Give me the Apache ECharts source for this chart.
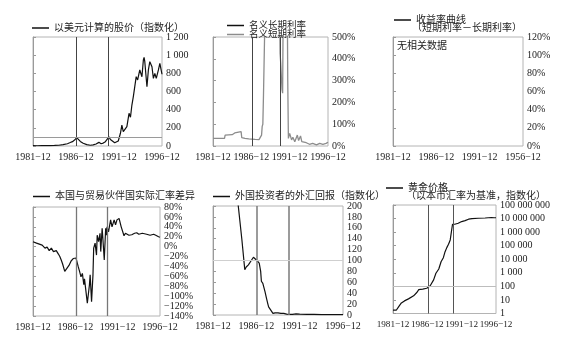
<!DOCTYPE html>
<html>
<head>
<meta charset="utf-8">
<script src="https://cdn.jsdelivr.net/npm/echarts@6/dist/echarts.min.js"></script>
<style>
  html, body { margin: 0; padding: 0; background: #fff; }
  #chart { width: 566px; height: 344px; }
</style>
</head>
<body>
<div id="chart"></div>
<script>
// X positions are months counted from December 1981 (0) to December 1996 (180).
const xTickLabels = ['1981\u221212', '1986\u221212', '1991\u221212', '1996\u221212'];
const yieldTickLabels = ['1981\u221212', '1986\u221212', '1991\u221212', '1956\u221212'];
const eventMonths = [61, 105];

// Stock price in US dollars, indexed
const stockMonths = [0, 6, 12, 18, 24, 30, 36, 42, 48, 52, 55, 58, 61, 63, 66, 70, 75, 80, 84, 88, 92, 95, 98, 101, 103, 106, 108, 110, 114, 119, 122, 124, 126, 128, 131, 134, 136, 138, 140, 142, 144, 146, 149, 152, 154, 155, 156, 159, 161, 163, 166, 168, 170, 172, 175, 177, 180];
const stockValues = [4, 3, 4, 5, 5, 6, 8, 15, 25, 38, 48, 65, 92, 78, 50, 30, 15, 8, 12, 22, 40, 25, 32, 48, 32, 100, 72, 58, 35, 55, 140, 231, 158, 140, 213, 360, 316, 451, 543, 653, 763, 727, 837, 763, 947, 975, 928, 653, 837, 928, 873, 745, 800, 745, 837, 910, 790];

// Nominal interest rates (%)
const longRateMonths = [];
const longRateValues = [];
const shortRateMonths = [0, 18, 19, 30, 34, 36, 44, 45, 50, 56, 60, 66, 72, 74, 76, 77, 78, 79, 80, 82, 90, 100, 104, 105, 106, 108, 109, 110, 113, 116, 117, 118, 120, 123, 125, 128, 132, 134, 137, 139, 142, 146, 151, 156, 162, 167, 172, 177, 180];
const shortRateValues = [35, 35, 50, 52, 60, 66, 66, 38, 35, 33, 32, 30, 29, 28, 50, 90, 100, 230, 235, 700, 1200, 900, 700, 425, 380, 260, 242, 700, 900, 800, 300, 35, 58, 28, 40, 20, 50, 25, 46, 20, 12, 15, 8, 12, 5, 12, 8, 12, 17];

// Yield curve: no data available
const yieldMonths = [];
const yieldValues = [];

// Real exchange rate gap against trading partners (%)
const realRateMonths = [0, 5, 9, 13, 17, 20, 23, 26, 29, 33, 36, 38, 40, 42, 45, 48, 51, 54, 57, 59, 61, 64, 66, 68, 70, 72, 73, 77, 80, 81, 83, 85, 86, 88, 90, 91, 93, 95, 96, 98, 99, 101, 103, 104, 105, 107, 110, 112, 115, 117, 119, 122, 125, 129, 131, 133, 136, 140, 144, 147, 150, 152, 155, 157, 161, 163, 166, 168, 171, 174, 176, 178, 180];
const realRateValues = [10, 7, 5, 3, -3, -1, -8, -3, -10, -8, -15, -20, -27, -35, -50, -44, -38, -29, -24, -20, -23, -40, -50, -61, -54, -77, -65, -114, -77, -57, -111, -57, -3, 7, -17, 23, 10, 27, -10, 37, 17, -27, 37, 23, 40, 30, 54, 40, 54, 44, 54, 57, 40, 22, 27, 25, 23, 24, 27, 28, 25, 24, 27, 26, 25, 27, 23, 25, 25, 23, 21, 20, 19];

// Foreign investors' currency return, indexed
const fxReturnMonths = [28, 35, 40, 44, 46, 49, 53, 56, 58, 60, 62, 64, 66, 67, 69, 72, 74, 76, 77, 80, 83, 86, 90, 94, 98, 102, 106, 110, 115, 120, 130, 140, 150, 160, 170, 180];
const fxReturnValues = [290, 200, 138, 83, 88, 92, 100, 106, 103, 101, 100, 95, 80, 62, 58, 43, 31, 20, 15, 9, 3, 4, 4, 3, 3, 1.5, 1, 1.2, 2, 1.5, 1, 1, 0.8, 0.8, 0.8, 0.8];

// Gold price in local currency, indexed (log scale)
const goldMonths = [0, 6, 10, 14, 20, 27, 36, 42, 45, 52, 59, 65, 71, 75, 80, 84, 88, 91, 94, 97, 100, 102, 104, 108, 114, 120, 126, 132, 138, 149, 161, 172, 177, 180];
const goldValues = [1.8, 1.8, 3.2, 5.6, 8.5, 12, 20, 37, 57, 63, 73, 112, 300, 930, 1900, 6600, 13000, 36000, 72000, 127000, 265000, 355000, 3800000, 3800000, 4500000, 6000000, 7000000, 9000000, 10000000, 10500000, 11000000, 12000000, 11500000, 11500000];

const FONT = "'Liberation Serif', 'Noto Sans CJK SC', serif";
const TEXT = '#222';

function pairs(ms, vs) { return ms.map((m, i) => [m, vs[i]]); }
function spaced(v) { return String(v).replace(/\B(?=(\d{3})+(?!\d))/g, ' '); }

const grids = [
  { left: 33, top: 37, width: 129, height: 109 },
  { left: 213, top: 37, width: 115, height: 109 },
  { left: 393, top: 37, width: 130, height: 109 },
  { left: 33, top: 207, width: 127, height: 109 },
  { left: 213, top: 206, width: 130, height: 109 },
  { left: 393, top: 205, width: 103, height: 108.5 }
].map(g => Object.assign({ show: true, borderColor: '#b4b4b4', borderWidth: 1, backgroundColor: 'transparent', containLabel: false, outerBoundsMode: 'none' }, g));

function xAxisFor(i, labels, fontSize) {
  return {
    type: 'value', gridIndex: i, min: 0, max: 180, interval: 60,
    axisLine: { show: false }, axisTick: { show: false }, splitLine: { show: false },
    axisLabel: {
      fontFamily: FONT, fontSize: fontSize || 10, color: TEXT, margin: 6,
      showMinLabel: true, showMaxLabel: true, hideOverlap: false,
      formatter: v => labels[Math.round(v / 60)]
    }
  };
}

function yAxisFor(i, extra, formatter) {
  return Object.assign({
    type: 'value', gridIndex: i, position: 'right',
    axisLine: { show: true, lineStyle: { color: '#9a9a9a' } },
    axisTick: { show: true, length: 3, lineStyle: { color: '#9a9a9a' } },
    splitLine: { show: false },
    axisLabel: { fontFamily: FONT, fontSize: 10, color: TEXT, margin: 4, showMinLabel: true, showMaxLabel: true, hideOverlap: false, formatter: formatter }
  }, extra);
}

function refLines(color, width, level, levelColor) {
  const data = eventMonths.map(m => ({ xAxis: m, lineStyle: { color: color, width: width, type: 'solid' } }));
  if (level != null) data.push({ yAxis: level, lineStyle: { color: levelColor, width: 1, type: 'solid' } });
  return { silent: true, symbol: ['none', 'none'], label: { show: false }, animation: false, data: data };
}

function lineSeries(name, i, data, color, width, markLine) {
  const s = {
    type: 'line', name: name, xAxisIndex: i, yAxisIndex: i, data: data,
    symbol: 'none', showSymbol: false, animation: false, clip: true,
    lineStyle: { color: color, width: width }, itemStyle: { color: color }
  };
  if (markLine) s.markLine = markLine;
  return s;
}

const legendBase = {
  padding: 0, itemWidth: 17, itemHeight: 1.5, icon: 'rect', itemGap: 0, selectedMode: false,
  textStyle: { fontFamily: FONT, fontSize: 10, color: TEXT, lineHeight: 12 }
};

const names = {
  stock: '以美元计算的股价（指数化）',
  longRate: '名义长期利率',
  shortRate: '名义短期利率',
  yieldCurve: '收益率曲线',
  realRate: '本国与贸易伙伴国实际汇率差异',
  fxReturn: '外国投资者的外汇回报（指数化）',
  gold: '黄金价格'
};

const option = {
  backgroundColor: '#fff',
  animation: false,
  grid: grids,
  xAxis: [
    xAxisFor(0, xTickLabels), xAxisFor(1, xTickLabels), xAxisFor(2, yieldTickLabels),
    xAxisFor(3, xTickLabels), xAxisFor(4, xTickLabels), xAxisFor(5, xTickLabels, 9.2)
  ],
  yAxis: [
    yAxisFor(0, { min: 0, max: 1200, interval: 200 }, v => spaced(v)),
    yAxisFor(1, { min: 0, max: 500, interval: 100 }, v => v + '%'),
    yAxisFor(2, { min: 0, max: 120, interval: 20 }, v => v + '%'),
    yAxisFor(3, { min: -140, max: 80, interval: 20 }, v => (v < 0 ? '\u2212' + (-v) : v) + '%'),
    yAxisFor(4, { min: 0, max: 200, interval: 20 }, v => String(v)),
    yAxisFor(5, { type: 'log', logBase: 10, min: 1, max: 100000000, splitNumber: 8 }, v => spaced(Math.round(v)))
  ],
  legend: [
    Object.assign({}, legendBase, { data: [names.stock], left: 32, top: 22 }),
    Object.assign({}, legendBase, { data: [names.longRate, names.shortRate], left: 227, top: 19.5, orient: 'vertical', itemGap: -3, textStyle: Object.assign({}, legendBase.textStyle, { fontSize: 9.5 }) }),
    Object.assign({}, legendBase, { data: [names.yieldCurve], left: 394, top: 14 }),
    Object.assign({}, legendBase, { data: [names.realRate], left: 33, top: 190.5 }),
    Object.assign({}, legendBase, { data: [names.fxReturn], left: 213, top: 190.5 }),
    Object.assign({}, legendBase, { data: [names.gold], left: 386, top: 182 })
  ],
  graphic: [
    { type: 'text', left: 412, top: 23, silent: true, style: { text: '（短期利率－长期利率）', font: '10px ' + FONT, fill: TEXT } },
    { type: 'text', left: 397, top: 41, silent: true, style: { text: '无相关数据', font: '10px ' + FONT, fill: TEXT } },
    { type: 'text', left: 406, top: 191, silent: true, style: { text: '（以本币汇率为基准，指数化）', font: '10px ' + FONT, fill: TEXT } }
  ],
  series: [
    lineSeries(names.stock, 0, pairs(stockMonths, stockValues), '#111', 1.2, refLines('#444', 1, 100, '#9a9a9a')),
    lineSeries(names.longRate, 1, pairs(longRateMonths, longRateValues), '#111', 1.2, null),
    lineSeries(names.shortRate, 1, pairs(shortRateMonths, shortRateValues), '#8c8c8c', 1.3, refLines('#444', 1, null, null)),
    lineSeries(names.yieldCurve, 2, pairs(yieldMonths, yieldValues), '#111', 1.2, null),
    lineSeries(names.realRate, 3, pairs(realRateMonths, realRateValues), '#111', 1.2, refLines('#777', 1.3, null, null)),
    lineSeries(names.fxReturn, 4, pairs(fxReturnMonths, fxReturnValues), '#111', 1.2, refLines('#7a7a7a', 1.5, 100, '#cfcfcf')),
    lineSeries(names.gold, 5, pairs(goldMonths, goldValues), '#111', 1.2, refLines('#555', 1, 100, '#bdbdbd'))
  ]
};

const chart = echarts.init(document.getElementById('chart'), null, { renderer: 'canvas' });
chart.setOption(option);
</script>
</body>
</html>
